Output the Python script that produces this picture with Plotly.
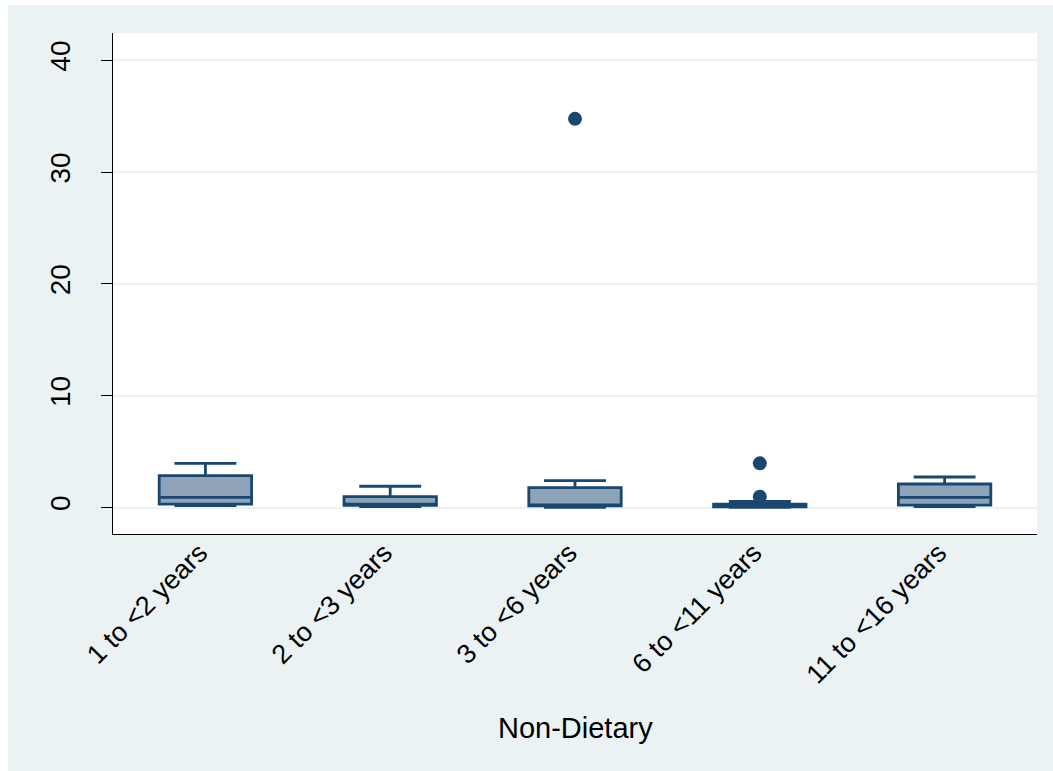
import plotly.graph_objects as go

# ---- data ----
categories = ["1 to <2 years", "2 to <3 years", "3 to <6 years", "6 to <11 years", "11 to <16 years"]
lower_whisker = [0.16, 0.07, 0.02, 0.02, 0.07]
q1 = [0.31, 0.20, 0.15, 0.06, 0.22]
median = [0.91, 0.30, 0.20, 0.15, 0.91]
q3 = [2.85, 0.97, 1.77, 0.30, 2.10]
upper_whisker = [3.95, 1.90, 2.40, 0.55, 2.73]

outlier_cat = ["3 to <6 years", "6 to <11 years", "6 to <11 years"]
outlier_val = [34.76, 3.95, 0.97]

y_ticks = [0, 10, 20, 30, 40]
x_title = "Non-Dietary"

# ---- styling ----
NAVY = "#1A476F"
FILL = "#8FA3B8"
BG = "#EAF2F3"
FONT = "Liberation Sans, Arial, sans-serif"

# figure sits at page offset (8, 5)
W, H = 1045, 766
L, R, T, B = 105, 16, 28, 237
pw = W - L - R
ph = H - T - B

fig = go.Figure()
fig.add_trace(go.Box(
    x=categories, q1=q1, median=median, q3=q3,
    lowerfence=lower_whisker, upperfence=upper_whisker,
    boxpoints=False, width=0.5, whiskerwidth=0.67,
    fillcolor=FILL, line=dict(color=NAVY, width=2.8),
    showlegend=False, hoverinfo="skip",
))
fig.add_trace(go.Scatter(
    x=outlier_cat, y=outlier_val, mode="markers",
    marker=dict(size=14, color=NAVY), showlegend=False, hoverinfo="skip",
))

fig.update_layout(
    width=W, height=H,
    margin=dict(l=L, r=R, t=T, b=B, pad=0),
    paper_bgcolor=BG, plot_bgcolor="white",
    font=dict(family=FONT, size=27, color="black"),
    annotations=[dict(text=x_title, xref="paper", yref="paper",
                      x=0.5, y=(H - B - 723) / ph, xanchor="center", yanchor="middle",
                      showarrow=False, font=dict(size=29, family=FONT, color="black"))],
)
fig.update_xaxes(
    type="category", categoryorder="array", categoryarray=categories,
    range=[-0.5, 4.5], showgrid=False, zeroline=False,
    showline=True, linecolor="black", linewidth=1.3, mirror=False,
    ticks="", tickangle=-45, tickfont=dict(size=27),
    ticklabelstandoff=-9, ticklabelshift=-6,
)
fig.update_yaxes(
    range=[-2.37, 42.44], tickvals=y_ticks, ticktext=[str(v) for v in y_ticks],
    showgrid=True, gridcolor=BG, gridwidth=2, zeroline=False,
    showline=True, linecolor="black", linewidth=1.3,
    ticks="outside", ticklen=11, tickwidth=1.3, tickcolor="black",
    tickangle=-90, tickfont=dict(size=28), ticklabelstandoff=20,
)

fig.write_html("out.html", post_script="document.body.style.margin='5px 0 0 8px';")
